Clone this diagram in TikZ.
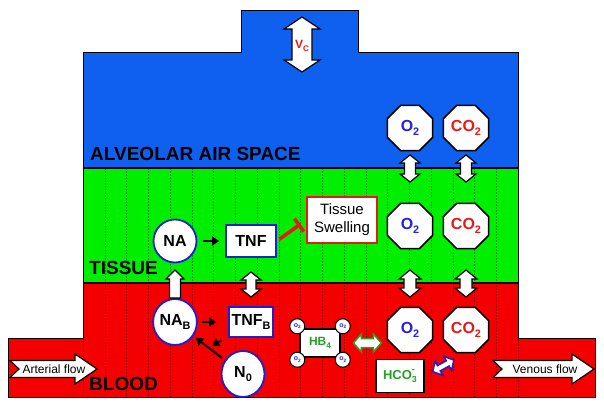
\documentclass[tikz,border=0pt]{standalone}
\usepackage{fontspec}
\setmainfont{Liberation Sans}
\usetikzlibrary{shapes.geometric,arrows.meta,calc}
\definecolor{airblue}{RGB}{16,96,240}
\definecolor{tisgreen}{RGB}{0,238,0}
\definecolor{bloodred}{RGB}{245,0,0}
\definecolor{oblue}{RGB}{35,35,215}
\definecolor{cored}{RGB}{230,25,25}
\definecolor{dgreen}{RGB}{40,160,40}
\definecolor{cblue}{RGB}{30,30,210}
\newcommand\fs[1]{\fontsize{#1}{#1}\selectfont}
\newcommand\lo[1]{\raisebox{-0.45ex}{\scalebox{0.68}{#1}}}
% double block arrow between two named points: #2 A, #3 B, #4 fraction of centre, #5 half length, #6 shaft half width, #7 head half width, #8 head length
\newcommand\DblArr[8][]{%
  \path[blockarrow,#1] let \p1=(#2), \p2=(#3), \p3=($(#2)!#4!(#3)$), \n1={atan2(\y2-\y1,\x2-\x1)} in
  [shift={(\p3)},rotate=\n1]
  (-#5,0pt) -- (-#5+#8,#7) -- (-#5+#8,#6) -- (#5-#8,#6) -- (#5-#8,#7) -- (#5,0pt)
  -- (#5-#8,-#7) -- (#5-#8,-#6) -- (-#5+#8,-#6) -- (-#5+#8,-#7) -- cycle;}
% single block arrow, same parameters
\newcommand\SglArr[8][]{%
  \path[blockarrow,#1] let \p1=(#2), \p2=(#3), \p3=($(#2)!#4!(#3)$), \n1={atan2(\y2-\y1,\x2-\x1)} in
  [shift={(\p3)},rotate=\n1]
  (-#5,#6) -- (#5-#8,#6) -- (#5-#8,#7) -- (#5,0pt)
  -- (#5-#8,-#7) -- (#5-#8,-#6) -- (-#5,-#6) -- cycle;}
% flow arrow with notched tail from #1 to #2
\newcommand\FlowArr[2]{%
  \path[blockarrow] let \p1=(#1), \p2=(#2), \n1={atan2(\y2-\y1,\x2-\x1)}, \n2={veclen(\x2-\x1,\y2-\y1)} in
  [shift={(\p1)},rotate=\n1]
  (0pt,8.5pt) -- (\n2-22pt,8.5pt) -- (\n2-22pt,15pt) -- (\n2+0pt,0pt) -- (\n2-22pt,-15pt)
  -- (\n2-22pt,-8.5pt) -- (0pt,-8.5pt) -- (9pt,0pt) -- cycle;}
\begin{document}
\begin{tikzpicture}[x=1pt,y=-1pt,
  blockarrow/.style={draw=black, fill=white, line width=1.2pt, line join=miter},
  vline/.style={black, opacity=0.35, line width=0.5pt, dash pattern=on 2pt off 1pt},
  lbl/.style={font=\fs{19}\bfseries, text=black, inner sep=0pt},
  octo/.style={regular polygon, regular polygon sides=8, minimum size=49pt, inner sep=0pt,
    draw=black, line width=1.5pt, fill=white, font=\fs{16}\bfseries},
  mol/.style={circle, minimum size=43pt, inner sep=0pt, draw=cblue, line width=1.8pt,
    fill=white, font=\fs{16}\bfseries},
  molv/.style={ellipse, minimum width=43pt, minimum height=46pt, inner sep=0pt, draw=cblue,
    line width=1.8pt, fill=white, font=\fs{16}\bfseries},
  tnfbox/.style={rectangle, draw=cblue, line width=1.8pt, fill=white, inner sep=0pt,
    font=\fs{16}\bfseries},
  swell/.style={rectangle, draw=cored, line width=1.6pt, fill=white, minimum width=70pt,
    minimum height=46pt, inner sep=0pt, align=center, font=\fontsize{15}{18}\selectfont},
  hbbox/.style={rectangle, draw=black, line width=1.5pt, fill=white, minimum width=40pt,
    minimum height=28pt, inner sep=0pt, font=\fs{12}\bfseries, text=dgreen},
  oxy/.style={circle, draw=black, line width=1pt, fill=white, minimum size=15pt, inner sep=0pt,
    font=\fs{7}\bfseries, text=oblue},
  hcobox/.style={rectangle, draw=black, line width=1.4pt, fill=white, minimum width=48pt,
    minimum height=33pt, inner sep=0pt, font=\fs{13}\bfseries, text=dgreen},
  flowtxt/.style={font=\fs{12}, inner sep=0pt},
  blk/.style={draw=black, line width=2pt, -{Triangle[length=7pt,width=9pt]}},
  inhib/.style={draw=cored, line width=3.5pt, -{Bar[width=16pt]}}
]
\useasboundingbox (0,0) rectangle (604,406);
\fill[white] (0,0) rectangle (604,406);
% compartments
\path[fill=airblue,draw=black,line width=1pt] (241,11) -- (358,11) -- (358,53) -- (518,53)
  -- (518,168) -- (83,168) -- (83,53) -- (241,53) -- cycle;
\path[fill=tisgreen] (83,168) rectangle (518,283);
\path[fill=bloodred] (83,283) -- (518,283) -- (518,338) -- (595,338) -- (595,397) -- (8,397)
  -- (8,338) -- (83,338) -- cycle;
\foreach \k in {1,...,19} \draw[vline] ({83+21.75*\k},168) -- ({83+21.75*\k},397);
\foreach \xx in {83,518} \draw[vline] (\xx,338) -- (\xx,397);
\draw[line width=1pt] (83,168) -- (83,338) -- (8,338) -- (8,397) -- (595,397) -- (595,338)
  -- (518,338) -- (518,168);
\draw[line width=2pt] (83,168) -- (518,168);
\draw[line width=2.2pt] (83,283) -- (518,283);
% labels
\node[lbl,anchor=west] (alv) at (90,154) {ALVEOLAR AIR SPACE};
\node[lbl,anchor=west] (tis) at (89,268) {TISSUE};
\node[lbl,anchor=west] (bld) at (89,384) {BLOOD};
% ventilation
\coordinate (vctop) at (302,17);
\coordinate (vcbot) at (302,72);
\DblArr{vctop}{vcbot}{.5}{27.5pt}{10pt}{18pt}{12pt}
\node[font=\fs{12}\bfseries, text=cored, inner sep=0pt] (vc) at (302,46) {V\lo{C}};
% gases
\node[octo,text=oblue] (o2a) at (410,128) {O\lo{2}};
\node[octo,text=cored] (co2a) at (466,128) {CO\lo{2}};
\node[octo,text=oblue] (o2t) at (410,226) {O\lo{2}};
\node[octo,text=cored] (co2t) at (466,226) {CO\lo{2}};
\node[octo,text=oblue] (o2b) at (410,330) {O\lo{2}};
\node[octo,text=cored] (co2b) at (466,330) {CO\lo{2}};
% tissue / blood species
\node[mol] (na) at (175,241) {NA};
\node[tnfbox, minimum width=50pt, minimum height=32pt] (tnf) at (251,241) {TNF};
\node[swell] (ts) at (342,220) {Tissue\\Swelling};
\node[molv] (nab) at (175,322) {NA\lo{B}};
\node[tnfbox, minimum width=44pt, minimum height=30pt] (tnfb) at (251,322) {TNF\lo{B}};
\node[molv] (n0) at (243,374) {N\lo{0}};
\node[hbbox] (hb) at (320,343) {HB\lo{4}};
\node[oxy] (hb1) at ($(hb.north west)+(-2,-2)$) {o\lo{2}};
\node[oxy] (hb2) at ($(hb.north east)+(2,-2)$) {o\lo{2}};
\node[oxy] (hb3) at ($(hb.south west)+(-2,2)$) {o\lo{2}};
\node[oxy] (hb4) at ($(hb.south east)+(2,2)$) {o\lo{2}};
\node[hcobox] (hco) at (400,376) {HCO\makebox[0pt][l]{\raisebox{1.1ex}{\scalebox{0.7}{-}}}\lo{3}};
% flows
\coordinate (arttail) at (10,369);
\coordinate (arttip) at (97,369);
\FlowArr{arttail}{arttip}
\node[flowtxt] (art) at (54,369) {Arterial flow};
\coordinate (ventail) at (493,369);
\coordinate (ventip) at (594,369);
\FlowArr{ventail}{ventip}
\node[flowtxt] (ven) at (545,369) {Venous flow};
% exchange arrows
\DblArr{o2a}{o2t}{.413}{13.5pt}{5.5pt}{10pt}{8pt}
\DblArr{co2a}{co2t}{.413}{13.5pt}{5.5pt}{10pt}{8pt}
\DblArr{o2t}{o2b}{.553}{13.5pt}{6pt}{11pt}{9pt}
\DblArr{co2t}{co2b}{.553}{13.5pt}{6pt}{11pt}{9pt}
\SglArr{nab}{na}{.47}{14pt}{5.5pt}{9pt}{9pt}
\DblArr{tnf}{tnfb}{.537}{12.5pt}{5pt}{10pt}{8pt}
\DblArr[draw=dgreen,line width=1.5pt]{hb.east}{o2b.west |- hb.east}{.58}{14pt}{4.5pt}{9pt}{8pt}
\DblArr[draw=cblue,line width=1.5pt]{hco.east}{co2b.south}{.45}{12pt}{3pt}{8pt}{7pt}
% reaction arrows
\draw[blk, shorten <=6pt, shorten >=6pt] (na) -- (tnf);
\draw[blk, shorten <=4pt, shorten >=12pt] (nab) -- (tnfb);
\draw[blk, shorten <=3pt, shorten >=3pt] (n0) -- (nab);
\coordinate (kick) at ($(nab)!.5!(n0)$);
\draw[blk, shorten <=8pt, shorten >=4pt] (tnfb) -- (kick);
\draw[inhib, shorten <=3pt, shorten >=7pt] (tnf.east) -- (ts.west);
\end{tikzpicture}
\end{document}
